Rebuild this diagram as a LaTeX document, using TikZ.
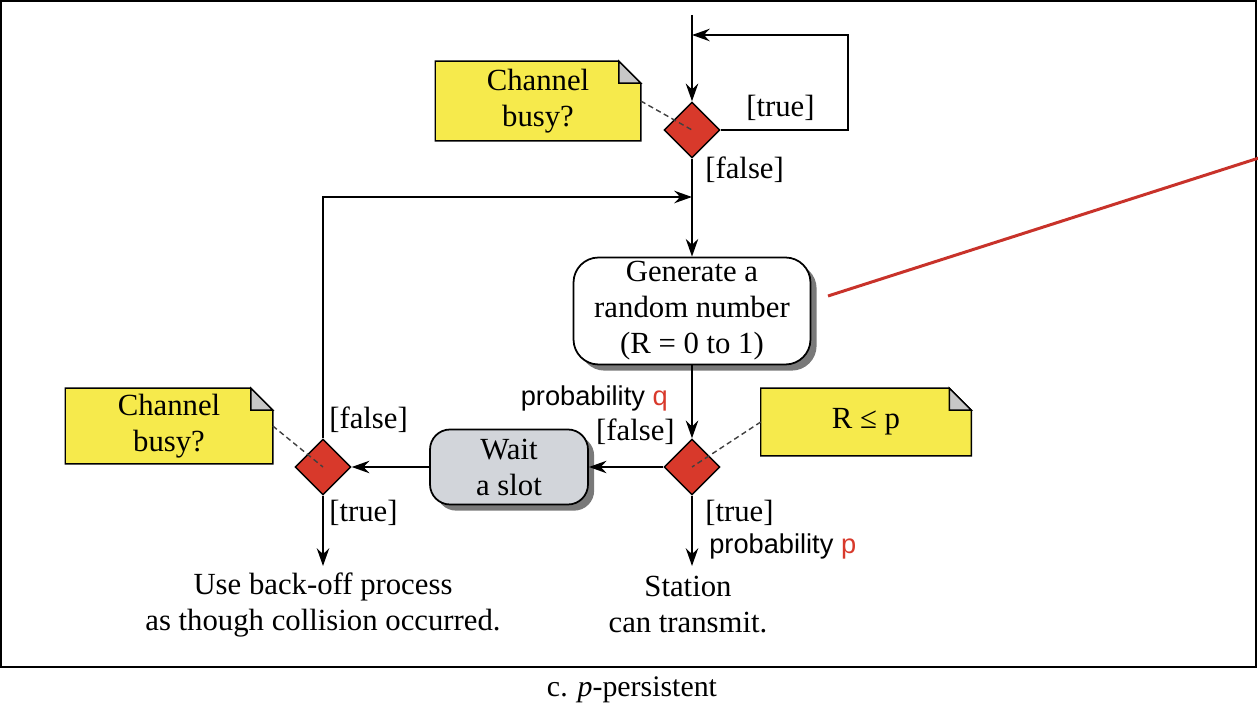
\documentclass[tikz,border=0pt]{standalone}
\usepackage{fontspec}
\setmainfont{Liberation Serif}
\setsansfont{Liberation Sans}
\usetikzlibrary{positioning,shapes.geometric,shadows,arrows.meta,backgrounds}
\definecolor{notey}{HTML}{F6EA4C}
\definecolor{decred}{HTML}{D8392B}
\definecolor{slotgray}{HTML}{D2D5DA}
\definecolor{linkred}{HTML}{C8322A}

\begin{document}
\begin{tikzpicture}[x=0.02cm, y=-0.02cm, >={Stealth[length=10pt,width=7pt]}, line width=1.5pt,
    every node/.style={font=\fontsize{17.5}{20.5}\selectfont, inner sep=0pt, align=center},
    decision/.style={diamond, draw=black, line width=0.8pt, fill=decred, minimum width=1.12cm, minimum height=1.12cm},
    action/.style={draw, line width=1pt, fill=white, rounded corners=0.5cm,
                   drop shadow={shadow xshift=3.5pt, shadow yshift=-3.5pt, opacity=0.75, fill=black!70}},
    note/.style={align=center},
    prob/.style={font=\sffamily\fontsize{15.5}{18}\selectfont},
    link/.style={densely dashed, line width=0.8pt, black!75}]

      \useasboundingbox (0,0) rectangle (1258,715);

      % Frame and caption
      \draw[line width=1.2pt] (1,1) rectangle (1256,667);
      \node[font=\fontsize{17}{20}\selectfont] (caption) at (632,690) {c. \textit{p}-persistent};

      % Notes
      \node[note, minimum width=4.06cm, minimum height=1.54cm] (busyTop) at (538,101) {Channel\\busy?};
      \node[note, minimum width=4.1cm, minimum height=1.46cm] (busyLeft) at (169,426) {Channel\\busy?};
      \node[note, minimum width=4.16cm, minimum height=1.3cm] (rLeP) at (866,422) {R ≤ p};
      \begin{scope}[on background layer]
        \foreach \n in {busyTop,busyLeft,rLeP} {
          \draw[line width=0.8pt, fill=notey] (\n.south west) -- (\n.north west) -- ([xshift=-0.44cm]\n.north east)
            -- ([yshift=-0.44cm]\n.north east) -- (\n.south east) -- cycle;
          \draw[line width=0.8pt, fill=black!22] ([xshift=-0.44cm]\n.north east) -- ([yshift=-0.44cm]\n.north east)
            -- ([xshift=-0.44cm,yshift=-0.44cm]\n.north east) -- cycle;
        }
      \end{scope}

      % Nodes
      \coordinate (top) at (692,15);
      \node[decision] (busy1) at (692,130) {};
      \coordinate (loopA) at (848,130);
      \coordinate (loopB) at (848,35);
      \coordinate (loopIn) at (692,35);
      \coordinate (merge) at (692,197);
      \node[action, minimum width=4.74cm, minimum height=2.14cm] (gen) at (692,311) {Generate a\\random number\\(R = 0 to 1)};
      \node[decision] (rcheck) at (692,467) {};
      \node[action, fill=slotgray, rounded corners=0.4cm, minimum width=3.16cm, minimum height=1.5cm] (slot) at (509,467) {Wait\\a slot};
      \node[decision] (busy2) at (323,467) {};
      \node (backoff) at (323,605) {Use back-off process\\as though collision occurred.};
      \node (station) at (688,605) {Station\\can transmit.};
      \coordinate (backEnd) at (323,566);
      \coordinate (sendEnd) at (692,566);

      % Edges
      \draw[->] (top) -- (busy1.north);
      \draw[->] (busy1.east) -- (loopA) -- (loopB) -- (loopIn);
      \draw[->] (busy1.south) -- (gen.north);
      \draw[->] (gen.south) -- (rcheck.north);
      \draw[->] (rcheck.west) -- (slot.east);
      \draw[->] (slot.west) -- (busy2.east);
      \draw[->] (busy2.north) |- (merge);
      \draw[->] (busy2.south) -- (backEnd);
      \draw[->] (rcheck.south) -- (sendEnd);

      % Labels
      \node[anchor=west] (true1) at (745,108) {[true]};
      \node[anchor=west] (false1) at (704,170) {[false]};
      \node[prob, anchor=east] (probQ) at (669,398) {probability \textcolor{decred}{q}};
      \node[anchor=east] (false2) at (676,432) {[false]};
      \node[anchor=west] (false3) at (328,420) {[false]};
      \node[anchor=west] (true3) at (328,513) {[true]};
      \node[anchor=west] (true2) at (704,513) {[true]};
      \node[prob, anchor=west] (probP) at (708,546) {probability \textcolor{decred}{p}};

      % Note links
      \draw[link] (busyTop.east) -- (busy1.center);
      \draw[link] (busyLeft.east) -- (busy2.center);
      \draw[link] (rLeP.west) -- (rcheck.center);

      % Red pointer
      \coordinate (redA) at (828,296);
      \coordinate (redB) at (1262,157);
      \draw[linkred, line width=1.7pt] (redA) -- (redB);

    \end{tikzpicture}
\end{document}
